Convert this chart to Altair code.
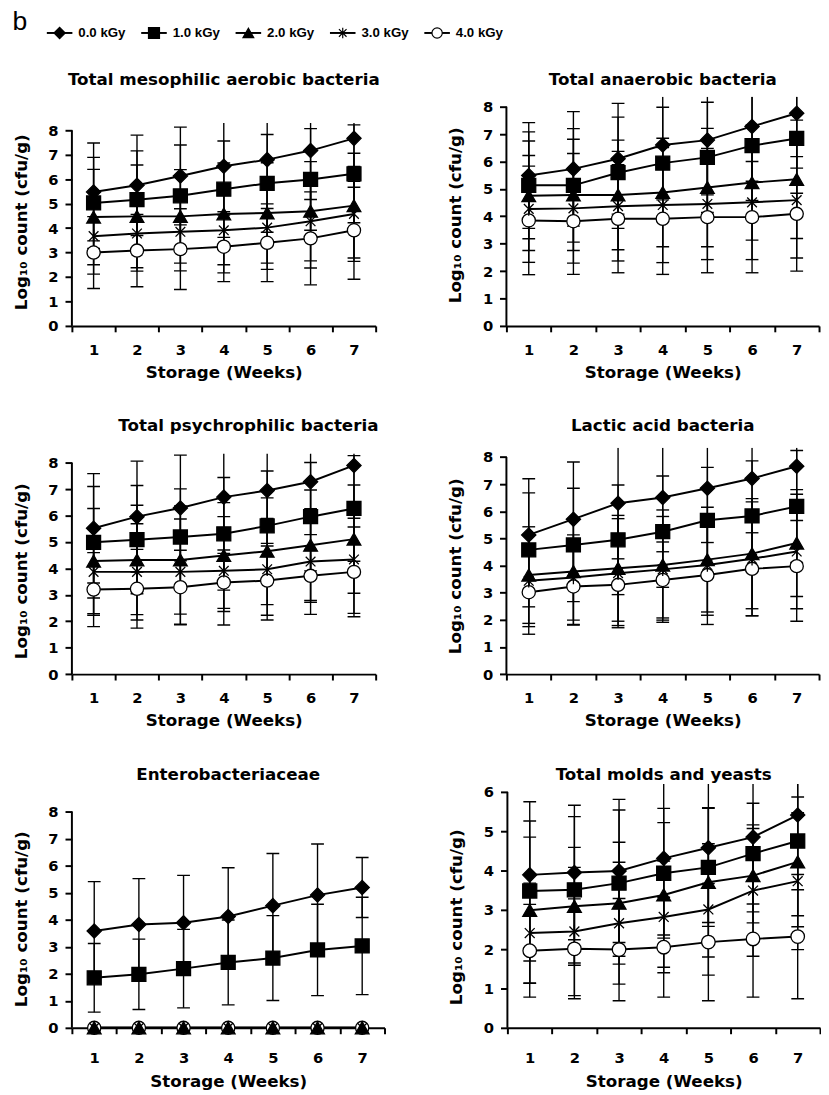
import altair as alt
import pandas as pd

WEEKS = [1, 2, 3, 4, 5, 6, 7]
DOSES = ["0.0 kGy", "1.0 kGy", "2.0 kGy", "3.0 kGy", "4.0 kGy"]
TITLES = ["Total mesophilic aerobic bacteria", "Total anaerobic bacteria",
          "Total psychrophilic bacteria", "Lactic acid bacteria",
          "Enterobacteriaceae", "Total molds and yeasts"]
X_TITLE = "Storage (Weeks)"
Y_TITLE = "Log\u2081\u2080 count (cfu/g)"
PANEL_LETTER = "b"

# rows = doses 0.0, 1.0, 2.0, 3.0, 4.0 kGy ; columns = weeks 1..7
MESO_MEAN = [[5.48, 5.75, 6.13, 6.53, 6.80, 7.17, 7.67],
             [5.03, 5.16, 5.32, 5.59, 5.83, 5.99, 6.22],
             [4.45, 4.48, 4.48, 4.58, 4.62, 4.69, 4.92],
             [3.67, 3.78, 3.85, 3.91, 4.02, 4.28, 4.58],
             [3.00, 3.08, 3.14, 3.24, 3.40, 3.58, 3.91]]
MESO_ERR = [[2.00, 2.05, 2.00, 2.00, 2.00, 2.00, 2.00],
            [1.86, 2.00, 2.08, 1.97, 2.00, 2.08, 2.00],
            [1.95, 2.10, 1.91, 2.08, 2.05, 2.03, 2.14],
            [1.55, 1.54, 1.60, 1.74, 1.71, 1.91, 1.94],
            [1.47, 1.48, 1.65, 1.43, 1.59, 1.90, 2.00]]

ANA_MEAN = [[5.49, 5.73, 6.10, 6.60, 6.78, 7.28, 7.76],
            [5.13, 5.13, 5.59, 5.94, 6.15, 6.58, 6.84],
            [4.75, 4.78, 4.78, 4.87, 5.05, 5.23, 5.35],
            [4.27, 4.29, 4.37, 4.41, 4.45, 4.51, 4.59],
            [3.85, 3.82, 3.91, 3.91, 3.97, 3.97, 4.09]]
ANA_ERR = [[1.93, 2.09, 2.02, 2.00, 2.00, 2.00, 2.00],
           [1.95, 2.07, 2.03, 2.04, 2.01, 2.00, 2.00],
           [2.00, 2.03, 2.00, 1.98, 2.16, 2.10, 2.16],
           [1.95, 2.00, 2.00, 2.10, 2.03, 2.09, 2.11],
           [1.98, 1.94, 1.97, 2.03, 2.03, 2.03, 2.09]]

PSY_MEAN = [[5.52, 5.96, 6.29, 6.70, 6.95, 7.28, 7.90],
            [4.99, 5.09, 5.19, 5.31, 5.61, 5.96, 6.27],
            [4.28, 4.32, 4.32, 4.49, 4.65, 4.88, 5.11],
            [3.87, 3.87, 3.87, 3.91, 3.97, 4.26, 4.34],
            [3.20, 3.23, 3.29, 3.47, 3.54, 3.72, 3.87]]
PSY_ERR = [[2.07, 2.10, 2.00, 2.00, 2.00, 2.00, 2.00],
           [2.11, 2.05, 1.82, 2.13, 2.08, 2.05, 2.00],
           [1.99, 2.07, 2.05, 2.00, 2.02, 2.09, 2.05],
           [1.64, 1.82, 2.00, 2.05, 1.92, 2.00, 2.04],
           [1.40, 1.49, 1.40, 1.10, 1.31, 1.00, 1.70]]

LAB_MEAN = [[5.13, 5.71, 6.30, 6.51, 6.85, 7.21, 7.66],
            [4.58, 4.76, 4.95, 5.25, 5.67, 5.83, 6.18],
            [3.65, 3.78, 3.90, 4.02, 4.22, 4.44, 4.83],
            [3.44, 3.56, 3.72, 3.86, 4.02, 4.25, 4.52],
            [3.02, 3.23, 3.29, 3.47, 3.65, 3.88, 3.98]]
LAB_ERR = [[2.07, 2.11, 2.05, 2.00, 2.00, 2.00, 2.00],
           [2.10, 2.09, 2.02, 2.05, 1.95, 2.03, 2.06],
           [1.78, 1.95, 1.95, 2.03, 1.93, 2.03, 1.97],
           [1.69, 1.57, 2.01, 1.95, 1.85, 2.10, 2.11],
           [1.55, 1.42, 1.50, 1.40, 1.82, 1.73, 2.03]]

ENT_MEAN = [[3.58, 3.82, 3.89, 4.12, 4.52, 4.91, 5.19],
            [1.85, 1.98, 2.19, 2.42, 2.58, 2.88, 3.03],
            [0, 0, 0, 0, 0, 0, 0],
            [0, 0, 0, 0, 0, 0, 0],
            [0, 0, 0, 0, 0, 0, 0]]
ENT_ERR = [[1.83, 1.70, 1.75, 1.80, 1.93, 1.89, 1.11],
           [1.27, 1.30, 1.45, 1.57, 1.57, 1.69, 1.80],
           [0, 0, 0, 0, 0, 0, 0],
           [0, 0, 0, 0, 0, 0, 0],
           [0, 0, 0, 0, 0, 0, 0]]

MOLD_MEAN = [[3.89, 3.95, 3.99, 4.31, 4.58, 4.85, 5.41],
             [3.48, 3.51, 3.68, 3.93, 4.08, 4.43, 4.75],
             [2.99, 3.09, 3.17, 3.38, 3.70, 3.87, 4.22],
             [2.41, 2.45, 2.66, 2.82, 3.01, 3.49, 3.73],
             [1.96, 2.01, 1.99, 2.05, 2.18, 2.26, 2.32]]
MOLD_ERR = [[1.86, 1.71, 1.82, 1.95, 1.90, 1.90, 1.90],
            [1.78, 1.86, 1.86, 1.65, 1.50, 1.28, 1.90],
            [1.86, 1.50, 1.55, 1.84, 1.90, 1.20, 1.65],
            [1.27, 1.63, 1.55, 1.42, 1.67, 1.67, 1.74],
            [1.18, 1.27, 1.30, 1.27, 1.49, 1.48, 1.58]]

STAR = "M0,-1L0,1M-0.72,-0.72L0.72,0.72M-0.72,0.72L0.72,-0.72"
SHAPES = ["diamond", "square", "triangle-up", STAR, "circle"]
FILLS = ["black", "black", "black", "transparent", "white"]
FONT = "DejaVu Sans"


def long_table(means, errs):
    rows = []
    for k, (dose, m_row, e_row) in enumerate(zip(DOSES, means, errs)):
        for w, m, e in zip(WEEKS, m_row, e_row):
            rows.append({"Week": w, "Dose": dose, "rank": len(DOSES) - k, "mean": m,
                         "lo": round(m - e, 3), "hi": round(m + e, 3)})
    return pd.DataFrame(rows)


def panel(title, means, errs, width, height, unit, clipmax, ytop, toff, ytitle_y,
          tdx=0, lpad=11, tpad=7, sizes=(210, 180, 170, 220, 180)):
    df = long_table(means, errs)
    ymax = round(height / unit, 4)
    xscale = alt.Scale(type="band", paddingInner=0, paddingOuter=0)
    xaxis = alt.Axis(title=X_TITLE, tickBand="extent", labelAngle=0, tickSize=6,
                     tickWidth=2, domainWidth=2, labelPadding=lpad, titlePadding=tpad,
                     grid=False)

    def X():
        return alt.X("Week:O", bandPosition=0.5, scale=xscale, axis=xaxis)

    yscale = alt.Scale(domain=[0, ymax], nice=False, zero=False)
    yaxis = alt.Axis(title=Y_TITLE, values=list(range(ytop + 1)), format="d",
                     domain=False, grid=False, tickSize=7, tickWidth=2,
                     labelPadding=7, titlePadding=18, titleY=ytitle_y)

    def Y(field):
        return alt.Y(f"{field}:Q", scale=yscale, axis=yaxis)

    base = alt.Chart(df).transform_calculate(hic=f"min(datum.hi, {clipmax})")
    err = base.mark_rule(clip=True, color="black", strokeWidth=1.4).encode(
        x=X(), y=Y("lo"), y2="hic:Q")
    cap_lo = base.mark_tick(clip=True, color="black", thickness=1.4, size=13,
                            opacity=1).encode(x=X(), y=Y("lo"))
    cap_hi = base.transform_filter(f"datum.hi <= {clipmax}").mark_tick(
        clip=True, color="black", thickness=1.4, size=13, opacity=1).encode(
        x=X(), y=Y("hi"))
    line = base.mark_line(color="black", strokeWidth=2).encode(
        x=X(), y=Y("mean"), detail="Dose:N")
    pts = base.mark_point(filled=True, opacity=1, stroke="black",
                          strokeWidth=1.3).encode(
        x=X(), y=Y("mean"),
        shape=alt.Shape("Dose:N", scale=alt.Scale(domain=DOSES, range=SHAPES), legend=None),
        fill=alt.Fill("Dose:N", scale=alt.Scale(domain=DOSES, range=FILLS), legend=None),
        size=alt.Size("Dose:O", scale=alt.Scale(domain=DOSES, range=list(sizes)), legend=None),
        order=alt.Order("rank:Q"),
    )
    yline = alt.Chart(alt.Data(values=[{"a": 0}])).mark_rule(
        color="black", strokeWidth=2).encode(
        x=alt.value(0),
        y=alt.YDatum(0, scale=yscale, axis=yaxis),
        y2=alt.Y2Datum(ytop))
    return alt.layer(err, cap_lo, cap_hi, line, pts, yline).properties(
        width=width, height=height,
        title=alt.TitleParams(text=title, offset=toff, dx=tdx))


RIGHT_W = 318
p1 = panel(TITLES[0], MESO_MEAN, MESO_ERR, 309, 233, 24.875, 8.3, 8, 8.5, 127)
p2 = panel(TITLES[1], ANA_MEAN, ANA_ERR, RIGHT_W, 233, 27.875, 8.36, 8, 8.5, 120)
p3 = panel(TITLES[2], PSY_MEAN, PSY_ERR, 309, 230.2, 26.875, 8.34, 8, 12.8, 125, tdx=25)
p4 = panel(TITLES[3], LAB_MEAN, LAB_ERR, RIGHT_W, 230.2, 27.6, 8.34, 8, 12.8, 120)
p5 = panel(TITLES[4], ENT_MEAN, ENT_ERR, 318, 248, 27.5, 9.0, 8, 0, 137, lpad=17, tpad=9)
p6 = panel(TITLES[5], MOLD_MEAN, MOLD_ERR, RIGHT_W, 248, 40.0, 6.2, 6, 0, 135,
           lpad=17, tpad=9, sizes=(210, 190, 90, 240, 180))

RES = dict(x="independent", y="independent", shape="independent",
           fill="independent", size="independent")
row1 = alt.hconcat(p1, p2, spacing=67).resolve_scale(**RES)
row2 = alt.hconcat(p3, p4, spacing=69).resolve_scale(**RES)
row3 = alt.hconcat(p5, p6, spacing=63).resolve_scale(**RES)
rows = alt.vconcat(row1, row2, row3, spacing=38).resolve_scale(**RES)

# legend strip
LEG_LEFT = -60.5
LEG_W = 480
leg_df = pd.DataFrame({"Dose": DOSES})
lx = alt.X("Dose:N", bandPosition=0.5, sort=DOSES,
           scale=alt.Scale(type="band", domain=DOSES, paddingInner=0, paddingOuter=0,
                           range=[LEG_LEFT, LEG_LEFT + LEG_W]),
           axis=None)
leg_base = alt.Chart(leg_df)
leg_line = leg_base.mark_point(shape="M-1,0L1,0", size=676, stroke="black",
                               strokeWidth=2, opacity=1).encode(x=lx, y=alt.value(25))
leg_pts = leg_base.mark_point(filled=True, opacity=1, stroke="black",
                              strokeWidth=1.2).encode(
    x=lx, y=alt.value(25),
    shape=alt.Shape("Dose:N", scale=alt.Scale(domain=DOSES, range=SHAPES), legend=None),
    fill=alt.Fill("Dose:N", scale=alt.Scale(domain=DOSES, range=FILLS), legend=None),
    size=alt.Size("Dose:O", scale=alt.Scale(domain=DOSES, range=[130, 110, 110, 150, 110]), legend=None),
)
leg_txt = leg_base.mark_text(align="left", baseline="middle", dx=19,
                             font="Liberation Sans", fontWeight="bold",
                             fontSize=13.5, color="black").encode(
    x=lx, y=alt.value(25), text="Dose:N")
letter = alt.Chart(alt.Data(values=[{"t": PANEL_LETTER}])).mark_text(
    align="left", baseline="top", font="Liberation Sans", fontSize=27,
    color="black").encode(x=alt.value(LEG_LEFT), y=alt.value(1), text="t:N")
legend = alt.layer(leg_line, leg_pts, leg_txt, letter).properties(
    width=LEG_W + LEG_LEFT, height=40)

chart = alt.vconcat(legend, rows, spacing=23).resolve_scale(**RES).properties(
    padding={"left": 4, "top": -9, "right": 0, "bottom": 0}
).configure_view(stroke=None).configure_axis(
    labelFont=FONT, titleFont=FONT, labelFontWeight="bold", titleFontWeight="bold",
    labelColor="black", titleColor="black", tickColor="black", domainColor="black",
    labelFontSize=15, titleFontSize=17
).configure_title(
    font=FONT, fontSize=17, fontWeight="bold", color="black", anchor="middle"
)

chart.save("out.html", embed_options={"renderer": "svg", "actions": False})
